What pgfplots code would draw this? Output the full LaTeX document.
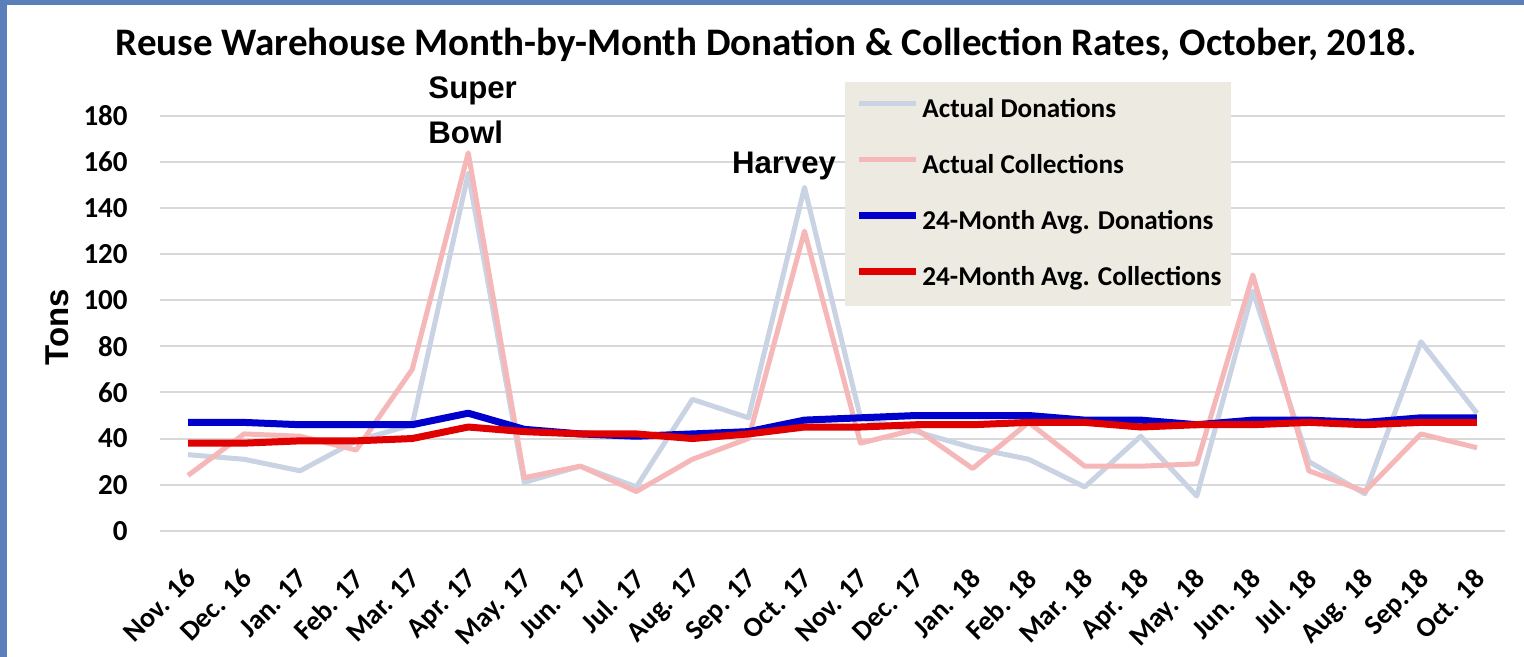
\documentclass[border=0pt]{standalone}
\usepackage{fontspec}
\setmainfont{Carlito}
\newfontfamily\arialfont{Liberation Sans}
\usepackage{pgfplots}
\pgfplotsset{compat=1.18}
\usepackage{pgfplotstable}

\definecolor{lightdon}{HTML}{C9D3E3}
\definecolor{lightcol}{HTML}{F5B7B7}
\definecolor{avgdon}{HTML}{0000CC}
\definecolor{avgcol}{HTML}{E00000}
\definecolor{legbg}{HTML}{ECEAE1}
\definecolor{framebl}{HTML}{5B7FBA}
\definecolor{gridgr}{HTML}{D9D9D9}

% month index, actual donations, actual collections, 24-month averages
\pgfplotstableread{
i  don  col  adon  acol
0  33   24   47    38
1  31   42   47    38
2  26   41   46    39
3  39   35   46    39
4  46   70   46    40
5  155  164  51    45
6  21   23   44    43
7  28   28   42    42
8  19   17   41    42
9  57   31   42    40
10 49   40   43    42
11 149  130  48    45
12 49   38   49    45
13 43   44   50    46
14 36   27   50    46
15 31   47   50    47
16 19   28   48    47
17 41   28   48    45
18 15   29   46    46
19 104  111  48    46
20 30   26   48    47
21 16   17   47    46
22 82   42   49    47
23 51   36   49    47
}\rates

\begin{document}
\begin{tikzpicture}
  \useasboundingbox (0,0) rectangle (762pt,328.5pt);
  \fill[white] (0,0) rectangle (762pt,328.5pt);
  \fill[framebl] (0,0) rectangle (3.5pt,328.5pt);
  \fill[framebl] (0,326pt) rectangle (762pt,328.5pt);

  \node[font=\fontsize{19.5}{22}\selectfont\bfseries] at (383pt,306pt)
    {Reuse Warehouse Month-by-Month Donation \& Collection Rates, October, 2018.};
  \node[rotate=90, font=\arialfont\bfseries\fontsize{16.5}{19}\selectfont] at (28.5pt,165pt) {Tons};

  \begin{axis}[
    at={(80pt,63.15pt)}, anchor=south west,
    scale only axis, width=672.5pt, height=207.35pt,
    xmin=-0.5, xmax=23.5, ymin=0, ymax=180,
    ytick={0,20,...,180},
    xtick={0,...,23},
    xticklabels={Nov. 16, Dec. 16, Jan. 17, Feb. 17, Mar. 17, Apr. 17, May. 17, Jun. 17,
                 Jul. 17, Aug. 17, Sep. 17, Oct. 17, Nov. 17, Dec. 17, Jan. 18, Feb. 18,
                 Mar. 18, Apr. 18, May. 18, Jun. 18, Jul. 18, Aug. 18, Sep.18, Oct. 18},
    axis line style={draw=none},
    major tick length=0pt,
    ymajorgrids,
    grid style={gridgr, line width=1pt},
    yticklabel style={font=\fontsize{14.5}{16}\selectfont\bfseries},
    xticklabel style={font=\fontsize{14}{16}\selectfont\bfseries},
    /pgf/number format/assume math mode=true,
    yticklabel style={anchor=east, inner sep=0pt, xshift=-16pt},
    xticklabel style={xshift=-2pt, yshift=-18pt, rotate=45, anchor=north east, inner sep=0pt},
    clip=false,
    no markers,
    legend cell align=left,
    legend image code/.code={\draw[#1] (0pt,3.5pt) -- (28.5pt,3.5pt);},
    legend style={
      at={(0.5093,1.082)}, anchor=north west,
      draw=none, fill=legbg,
      inner xsep=5pt, inner ysep=7.5pt,
      row sep=15pt, column sep=1.5pt,
      font=\fontsize{13.6}{16}\selectfont\bfseries,
      nodes={inner sep=0pt, text height=10pt, text depth=3pt},
    },
  ]
    \addplot[lightdon, line width=2.5pt, line join=round] table[x=i, y=don] {\rates};
    \addlegendentry{Actual Donations}
    \addplot[lightcol, line width=2.5pt, line join=round] table[x=i, y=col] {\rates};
    \addlegendentry{Actual Collections}
    \addplot[avgdon, line width=3.5pt, line join=round] table[x=i, y=adon] {\rates};
    \addlegendentry{24-Month Avg. Donations}
    \addplot[avgcol, line width=3.5pt, line join=round] table[x=i, y=acol] {\rates};
    \addlegendentry{24-Month Avg. Collections}

    \node[anchor=base west, inner sep=0pt, font=\arialfont\bfseries\fontsize{15.6}{18}\selectfont]
      at (axis cs:4.283,187.5) {Super};
    \node[anchor=base west, inner sep=0pt, font=\arialfont\bfseries\fontsize{15.6}{18}\selectfont]
      at (axis cs:4.283,168) {Bowl};
    \node[anchor=base west, inner sep=0pt, font=\arialfont\bfseries\fontsize{15.6}{18}\selectfont]
      at (axis cs:9.70,155.2) {Harvey};
  \end{axis}
\end{tikzpicture}
\end{document}
